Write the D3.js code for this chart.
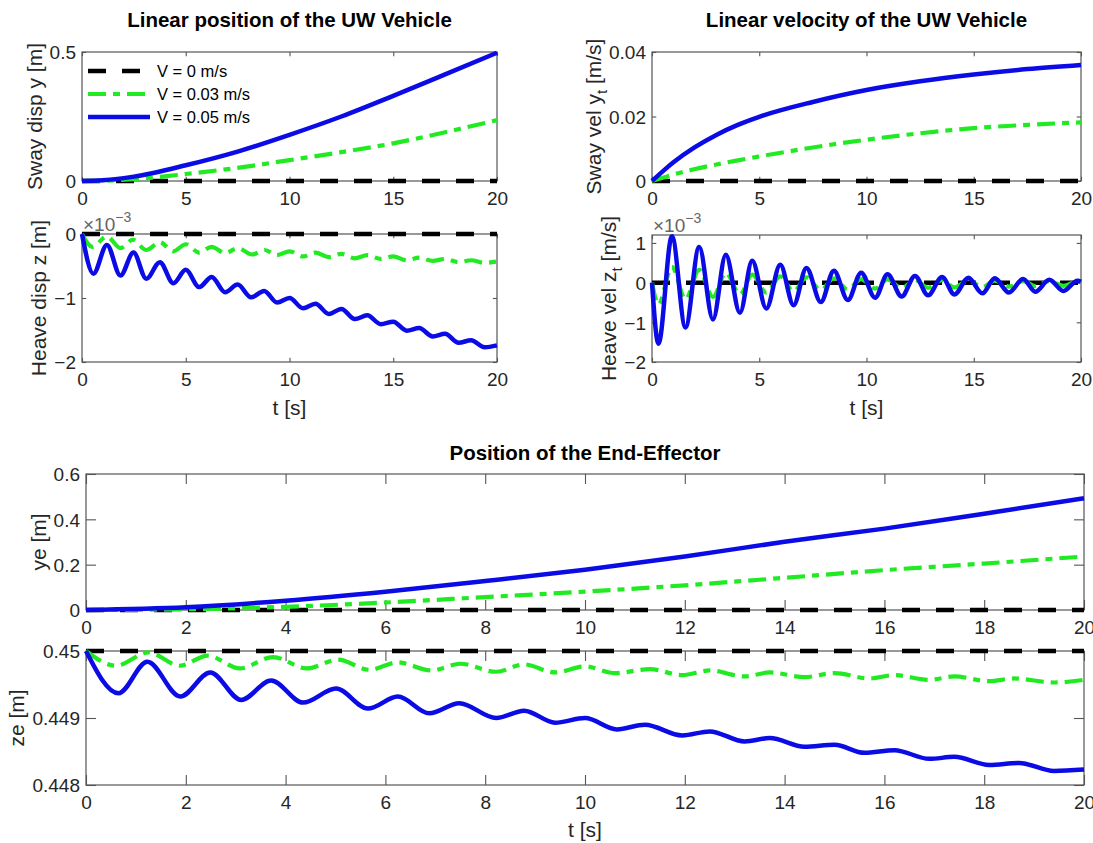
<!DOCTYPE html>
<html>
<head>
<meta charset="utf-8">
<script src="https://cdn.jsdelivr.net/npm/d3@7"></script>
<style>
  body { margin: 0; background: #fff; }
  svg { display: block; }
</style>
</head>
<body>
<svg id="fig" width="1093" height="843"></svg>
<script>
// ---------------- data ----------------
const legendLabels = ["V = 0 m/s", "V = 0.03 m/s", "V = 0.05 m/s"];
const xTicksTop = [0, 5, 10, 15, 20];
const xTicksBottom = [0, 2, 4, 6, 8, 10, 12, 14, 16, 18, 20];

// flat reference run (V = 0)
const zeroT = [0, 20];
const zeroV = [0, 0];
const zeTZero = [0, 20];
const zeVZero = [0.45, 0.45];

// sway displacement y [m]
const swayDispT  = [0, 1, 2.5, 5, 7.5, 10, 12.5, 15, 17.5, 20];
const swayDispV3 = [0, 0.001, 0.007, 0.027, 0.051, 0.081, 0.112, 0.146, 0.189, 0.236];
const swayDispV5 = [0, 0.003, 0.017, 0.061, 0.114, 0.179, 0.250, 0.330, 0.413, 0.497];

// sway velocity y_t [m/s]
const swayVelT  = [0, 0.5, 1, 2, 3, 4, 5, 7.5, 10, 12.5, 15, 17.5, 20];
const swayVelV3 = [0, 0.001, 0.002, 0.0037, 0.0051, 0.0064, 0.0076, 0.0104, 0.0128, 0.0148, 0.0164, 0.0174, 0.0182];
const swayVelV5 = [0, 0.003, 0.0058, 0.0105, 0.0143, 0.0174, 0.0199, 0.0245, 0.0282, 0.0309, 0.0330, 0.0347, 0.0360];

// heave displacement z [x1e-3 m]
const heaveDispT5 = [0, 0.55, 1.2, 1.85, 2.48, 3.1, 3.75, 4.4, 5.0, 5.65, 6.25, 6.9, 7.5, 8.15, 8.78, 9.4, 10.0, 10.65, 11.25, 11.9, 12.5, 13.15, 13.75, 14.4, 15.0, 15.65, 16.25, 16.9, 17.5, 18.15, 18.75, 19.4, 20];
const heaveDispV5 = [0, -0.62, -0.17, -0.65, -0.29, -0.70, -0.44, -0.77, -0.56, -0.83, -0.67, -0.91, -0.79, -0.99, -0.89, -1.07, -1.00, -1.16, -1.09, -1.25, -1.17, -1.33, -1.27, -1.41, -1.37, -1.51, -1.47, -1.60, -1.56, -1.70, -1.66, -1.77, -1.74];
const heaveDispT3 = [0, 0.5, 1.2, 1.85, 2.45, 3.1, 3.75, 4.4, 5.0, 5.65, 6.25, 6.9, 7.5, 8.2, 8.8, 9.4, 10.0, 10.65, 11.25, 11.9, 12.5, 13.15, 13.75, 14.4, 15.0, 15.65, 16.25, 16.9, 17.5, 18.15, 18.75, 19.4, 20];
const heaveDispV3 = [0, -0.20, -0.04, -0.22, -0.09, -0.25, -0.13, -0.27, -0.16, -0.29, -0.20, -0.30, -0.22, -0.32, -0.25, -0.33, -0.27, -0.35, -0.29, -0.36, -0.31, -0.38, -0.33, -0.39, -0.35, -0.41, -0.37, -0.42, -0.39, -0.44, -0.41, -0.45, -0.43];

// heave velocity z_t [x1e-3 m/s]
const heaveVelT  = [0, 0.3, 0.93, 1.56, 2.2, 2.84, 3.44, 4.1, 4.67, 5.33, 5.98, 6.6, 7.2, 7.87, 8.48, 9.13, 9.75, 10.4, 10.98, 11.64, 12.26, 12.87, 13.52, 14.1, 14.75, 15.4, 15.98, 16.64, 17.3, 17.87, 18.52, 19.18, 19.84, 20];
const heaveVelV5 = [0, -1.54, 1.17, -1.13, 0.90, -0.93, 0.70, -0.76, 0.55, -0.65, 0.45, -0.57, 0.37, -0.49, 0.30, -0.44, 0.25, -0.38, 0.21, -0.35, 0.17, -0.32, 0.14, -0.30, 0.12, -0.27, 0.11, -0.25, 0.09, -0.23, 0.07, -0.21, 0.05, 0.02];
const heaveVelV3 = [0, -0.55, 0.40, -0.42, 0.32, -0.36, 0.25, -0.30, 0.20, -0.25, 0.16, -0.22, 0.13, -0.19, 0.11, -0.17, 0.09, -0.15, 0.08, -0.14, 0.07, -0.13, 0.06, -0.12, 0.05, -0.11, 0.05, -0.10, 0.04, -0.09, 0.04, -0.08, 0.03, 0.02];

// end-effector ye [m]
const yeT  = [0, 2, 4, 6, 8, 10, 12, 14, 16, 18, 20];
const yeV3 = [0, 0.003, 0.014, 0.033, 0.057, 0.081, 0.109, 0.142, 0.176, 0.205, 0.236];
const yeV5 = [0, 0.012, 0.041, 0.081, 0.128, 0.178, 0.236, 0.301, 0.359, 0.425, 0.493];

// end-effector ze [m]
const zeT5 = [0, 0.65, 1.23, 1.89, 2.49, 3.11, 3.71, 4.35, 5.01, 5.65, 6.25, 6.88, 7.48, 8.22, 8.78, 9.4, 10.0, 10.64, 11.2, 11.95, 12.5, 13.2, 13.7, 14.4, 15.0, 15.6, 16.2, 16.9, 17.4, 18.1, 18.7, 19.4, 20];
const zeV5 = [0.45, 0.44937, 0.44984, 0.44932, 0.44968, 0.44927, 0.44956, 0.44923, 0.44944, 0.44914, 0.44932, 0.44907, 0.44922, 0.44900, 0.44911, 0.44893, 0.44900, 0.44883, 0.44890, 0.44874, 0.44880, 0.44865, 0.44870, 0.44857, 0.44860, 0.44848, 0.44852, 0.44839, 0.44842, 0.44830, 0.44833, 0.44821, 0.44823];
const zeT3 = [0, 0.6, 1.25, 1.88, 2.44, 3.08, 3.75, 4.42, 5.05, 5.68, 6.25, 6.92, 7.5, 8.22, 8.78, 9.4, 10.0, 10.6, 11.3, 11.95, 12.5, 13.2, 13.7, 14.4, 15.0, 15.7, 16.2, 16.9, 17.4, 18.1, 18.6, 19.4, 20];
const zeV3 = [0.45, 0.44978, 0.44998, 0.44978, 0.44993, 0.44974, 0.44991, 0.44974, 0.44987, 0.44972, 0.44983, 0.44971, 0.44981, 0.44969, 0.44980, 0.44968, 0.44977, 0.44967, 0.44973, 0.44964, 0.44971, 0.44962, 0.44968, 0.44961, 0.44967, 0.44959, 0.44964, 0.44957, 0.44962, 0.44955, 0.44959, 0.44953, 0.44957];

// ---------------- style ----------------
const FONT = "'Liberation Sans', Arial, Helvetica, sans-serif";
const AXC = "#262626";
const BOXC = "#555555";
const TICK_FS = 19;
const LABEL_FS = 21;
const styles = [
  { color: "#000000", width: 4.5, dash: "18,16" },
  { color: "#22ea22", width: 4.2, dash: "18,7,7,7" },
  { color: "#0b0be6", width: 4.5, dash: null }
];

const panels = [
  { box: [82, 52, 497, 181], xDomain: [0, 20], yDomain: [0, 0.5], xTicks: xTicksTop, yTicks: [0, 0.5],
    ylabel: [{ t: "Sway disp y [m]" }], title: "Linear position of the UW Vehicle", titleY: 27,
    series: [[zeroT, zeroV], [swayDispT, swayDispV3], [swayDispT, swayDispV5]], legend: true },
  { box: [652, 52, 1081, 181], xDomain: [0, 20], yDomain: [0, 0.04], xTicks: xTicksTop, yTicks: [0, 0.02, 0.04],
    ylabel: [{ t: "Sway vel y" }, { t: "t", sub: true }, { t: " [m/s]" }], title: "Linear velocity of the UW Vehicle", titleY: 27,
    series: [[zeroT, zeroV], [swayVelT, swayVelV3], [swayVelT, swayVelV5]] },
  { box: [82, 234, 497, 362], xDomain: [0, 20], yDomain: [-2, 0], xTicks: xTicksTop, yTicks: [-2, -1, 0],
    ylabel: [{ t: "Heave disp z [m]" }], exponent: "\u22123", xlabel: "t [s]", xlabelY: 415,
    series: [[zeroT, zeroV], [heaveDispT3, heaveDispV3], [heaveDispT5, heaveDispV5]] },
  { box: [652, 235, 1081, 362], xDomain: [0, 20], yDomain: [-2, 1.2], xTicks: xTicksTop, yTicks: [-2, -1, 0, 1],
    ylabel: [{ t: "Heave vel z" }, { t: "t", sub: true }, { t: " [m/s]" }], exponent: "\u22123", xlabel: "t [s]", xlabelY: 415,
    series: [[zeroT, zeroV], [heaveVelT, heaveVelV3], [heaveVelT, heaveVelV5]] },
  { box: [86, 474, 1084, 610], xDomain: [0, 20], yDomain: [0, 0.6], xTicks: xTicksBottom, yTicks: [0, 0.2, 0.4, 0.6],
    ylabel: [{ t: "ye [m]" }], title: "Position of the End-Effector", titleY: 460,
    series: [[zeroT, zeroV], [yeT, yeV3], [yeT, yeV5]] },
  { box: [86, 651, 1084, 785], xDomain: [0, 20], yDomain: [0.448, 0.45], xTicks: xTicksBottom, yTicks: [0.448, 0.449, 0.45],
    ylabel: [{ t: "ze [m]" }], xlabel: "t [s]", xlabelY: 837,
    series: [[zeTZero, zeVZero], [zeT3, zeV3], [zeT5, zeV5]] }
];

// ---------------- drawing ----------------
const svg = d3.select("#fig");
svg.append("rect").attr("width", 1093).attr("height", 843).attr("fill", "#fff");

const fmt = v => String(+(+v).toFixed(6)).replace("-", "\u2212");

function styleAxis(a) {
  a.attr("font-family", FONT).attr("font-size", TICK_FS);
  a.select(".domain").remove();
  a.selectAll(".tick line").attr("stroke", BOXC).attr("stroke-width", 1.1);
  a.selectAll(".tick text").attr("fill", AXC);
}

panels.forEach(p => {
  const [x0, y0, x1, y1] = p.box;
  const x = d3.scaleLinear().domain(p.xDomain).range([x0, x1]);
  const y = d3.scaleLinear().domain(p.yDomain).range([y1, y0]);
  const tl = 0.01 * Math.max(x1 - x0, y1 - y0);
  const g = svg.append("g");

  // frame
  g.append("rect").attr("x", x0).attr("y", y0).attr("width", x1 - x0).attr("height", y1 - y0)
    .attr("fill", "none").attr("stroke", BOXC).attr("stroke-width", 1.2);

  const xb = g.append("g").attr("transform", `translate(0,${y1})`)
    .call(d3.axisBottom(x).tickValues(p.xTicks).tickFormat(fmt).tickSize(-tl).tickPadding(11));
  const xt = g.append("g").attr("transform", `translate(0,${y0})`)
    .call(d3.axisTop(x).tickValues(p.xTicks).tickFormat("").tickSize(-tl));
  const yl = g.append("g").attr("transform", `translate(${x0},0)`)
    .call(d3.axisLeft(y).tickValues(p.yTicks).tickFormat(fmt).tickSize(-tl).tickPadding(6));
  const yr = g.append("g").attr("transform", `translate(${x1},0)`)
    .call(d3.axisRight(y).tickValues(p.yTicks).tickFormat("").tickSize(-tl));
  [xb, xt, yl, yr].forEach(styleAxis);
  yl.selectAll(".tick text").attr("dy", "0.36em");

  // data lines
  const line = d3.line().x(d => x(d[0])).y(d => y(d[1])).curve(d3.curveMonotoneX);
  p.series.forEach((s, i) => {
    const st = styles[i];
    g.append("path").attr("d", line(d3.zip(s[0], s[1])))
      .attr("fill", "none").attr("stroke", st.color).attr("stroke-width", st.width)
      .attr("stroke-dasharray", st.dash).attr("stroke-linejoin", "round");
  });

  // y label, placed left of the widest tick label
  let minX = 0;
  yl.selectAll(".tick text").each(function () { const b = this.getBBox(); minX = Math.min(minX, b.x); });
  const lx = x0 + minX - 8;
  const lab = g.append("text").attr("transform", `translate(${lx},${(y0 + y1) / 2}) rotate(-90)`)
    .attr("text-anchor", "middle").attr("font-family", FONT).attr("font-size", LABEL_FS).attr("fill", AXC);
  p.ylabel.forEach(seg => {
    const ts = lab.append("tspan").text(seg.t);
    if (seg.sub) ts.attr("font-size", 15).attr("dy", 6);
    else if (lab.selectAll("tspan").size() > 1) ts.attr("dy", -6);
  });

  // titles
  if (p.title) {
    g.append("text").attr("x", (x0 + x1) / 2).attr("y", p.titleY).attr("text-anchor", "middle")
      .attr("font-family", FONT).attr("font-size", 20.5).attr("font-weight", "bold").attr("fill", "#000")
      .text(p.title);
  }
  // x label
  if (p.xlabel) {
    g.append("text").attr("x", (x0 + x1) / 2).attr("y", p.xlabelY).attr("text-anchor", "middle")
      .attr("font-family", FONT).attr("font-size", LABEL_FS).attr("fill", AXC).text(p.xlabel);
  }
  // axis exponent
  if (p.exponent) {
    const e = g.append("text").attr("x", x0 + 1).attr("y", y0 - 3)
      .attr("font-family", FONT).attr("font-size", 19).attr("fill", "#666");
    e.append("tspan").text("\u00d710");
    e.append("tspan").attr("font-size", 14).attr("dy", -9).text(p.exponent);
  }
  // legend
  if (p.legend) {
    const rows = [71, 94, 117];
    legendLabels.forEach((lbl, i) => {
      const st = styles[i];
      g.append("line").attr("x1", 88).attr("x2", 150).attr("y1", rows[i]).attr("y2", rows[i])
        .attr("stroke", st.color).attr("stroke-width", st.width).attr("stroke-dasharray", st.dash);
      g.append("text").attr("x", 157).attr("y", rows[i]).attr("dy", "0.36em")
        .attr("font-family", FONT).attr("font-size", 16.5).attr("fill", "#000").text(lbl);
    });
  }
});
</script>
</body>
</html>
